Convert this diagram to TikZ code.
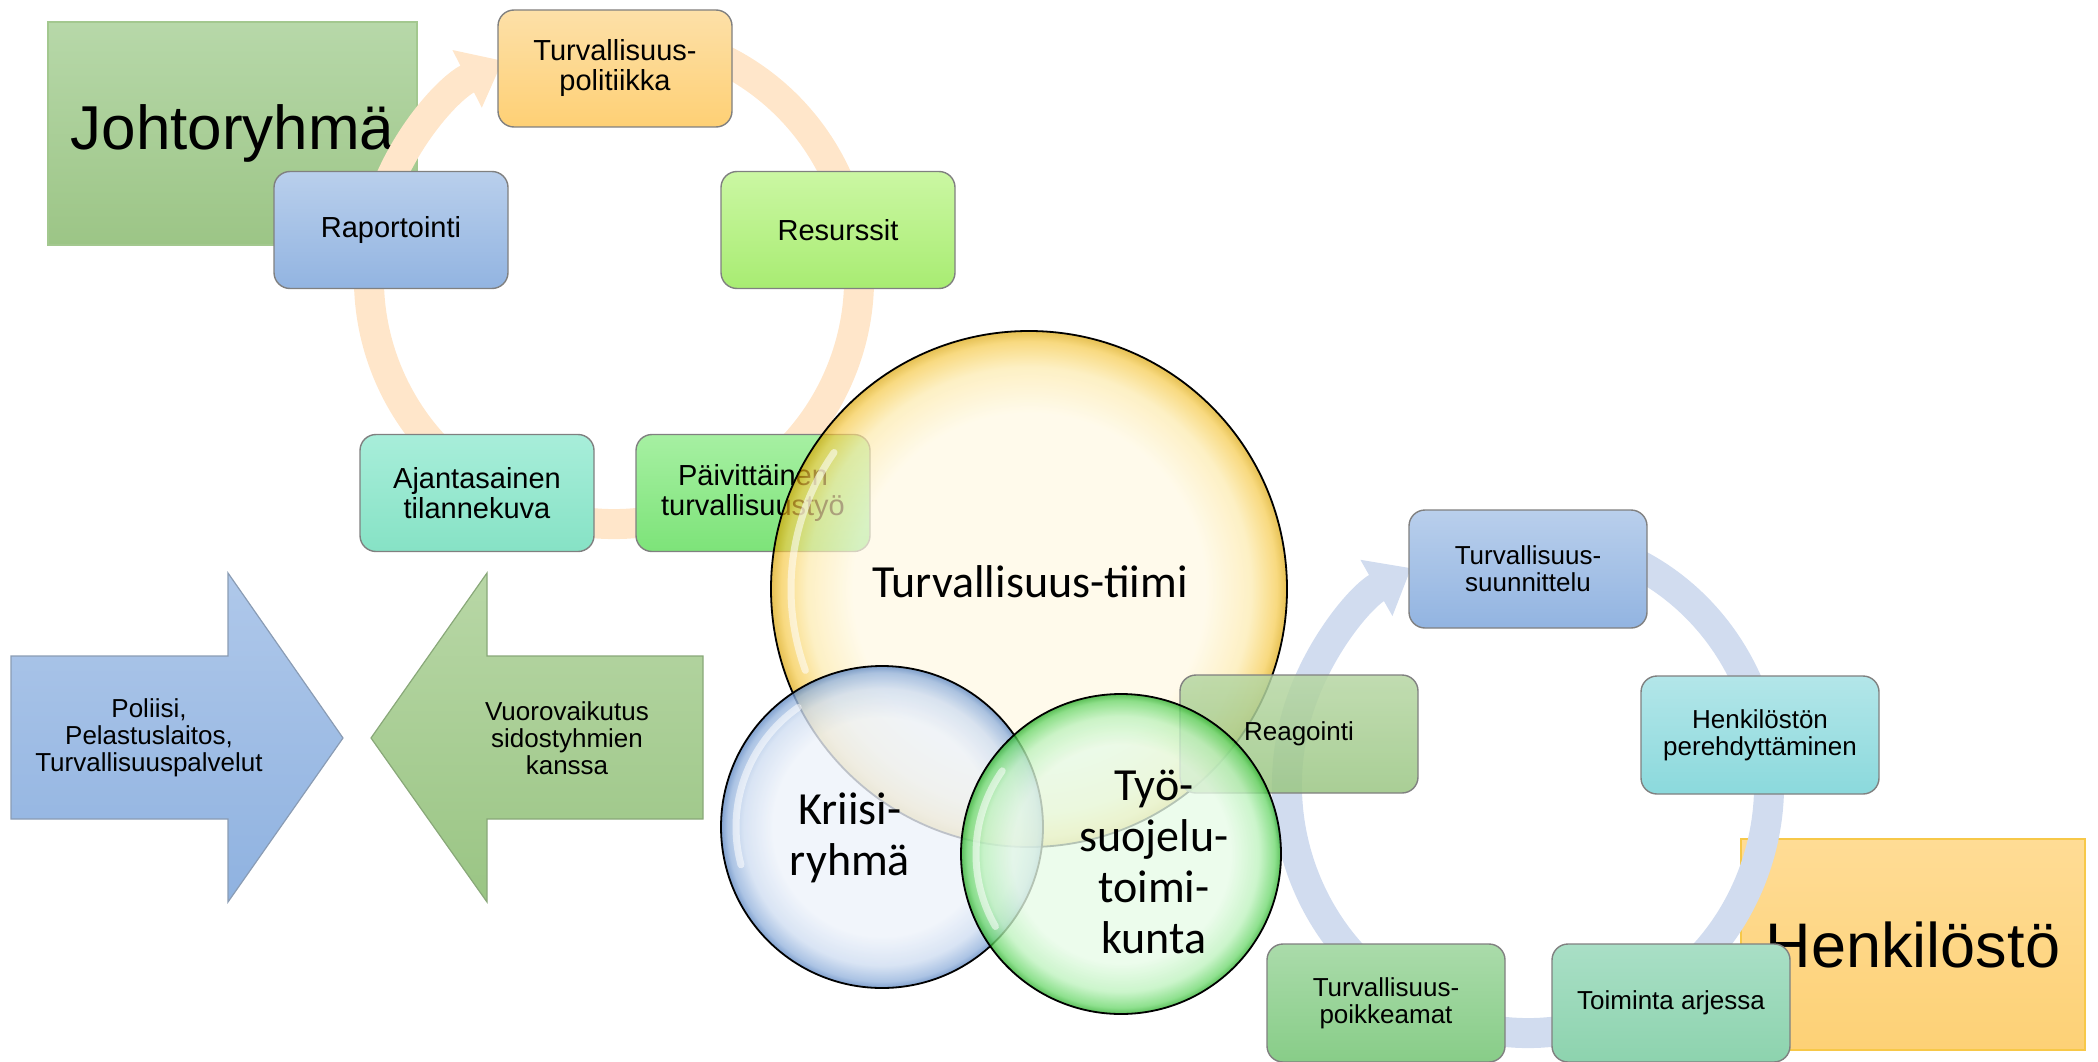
\documentclass[tikz,border=0pt]{standalone}
\usepackage{fontspec}
\setmainfont{Liberation Sans}
\newfontfamily\calib{Carlito}
\usetikzlibrary{arrows.meta,shadings}
\definecolor{johtoT}{HTML}{B7D8A9}
\definecolor{johtoB}{HTML}{9CC586}
\definecolor{johtoL}{HTML}{A3C88F}
\definecolor{henkT}{HTML}{FFDC95}
\definecolor{henkB}{HTML}{FDD176}
\definecolor{henkL}{HTML}{F7C848}
\definecolor{ringO}{HTML}{FFE6CA}
\definecolor{ringB}{HTML}{D1DCEF}
\definecolor{boxL}{HTML}{808080}
\definecolor{politT}{HTML}{FDE0A8}
\definecolor{politB}{HTML}{FED075}
\definecolor{blueT}{HTML}{B9CFEC}
\definecolor{blueB}{HTML}{92B4E1}
\definecolor{limeT}{HTML}{CBF7A3}
\definecolor{limeB}{HTML}{A8EC72}
\definecolor{mintT}{HTML}{A8EEDA}
\definecolor{mintB}{HTML}{86E2C5}
\definecolor{paivT}{HTML}{A6F0A2}
\definecolor{paivB}{HTML}{7DE379}
\definecolor{cyanT}{HTML}{B3E6E9}
\definecolor{cyanB}{HTML}{8BD9DC}
\definecolor{oliveT}{HTML}{B6D6A3}
\definecolor{oliveB}{HTML}{9AC683}
\definecolor{poikT}{HTML}{AADBAA}
\definecolor{poikB}{HTML}{88CD88}
\definecolor{toimT}{HTML}{A9DFC6}
\definecolor{toimB}{HTML}{8DD3AE}
\definecolor{arrBT}{HTML}{AFC8EA}
\definecolor{arrBB}{HTML}{8FB2E0}
\definecolor{arrBL}{HTML}{8A9CB4}
\definecolor{arrGT}{HTML}{B8D7A6}
\definecolor{arrGB}{HTML}{9AC584}
\definecolor{arrGL}{HTML}{89A879}
\definecolor{cYin}{HTML}{FFF8E2}
\definecolor{cYmid}{HTML}{FCE9A8}
\definecolor{cYrim}{HTML}{F5C844}
\definecolor{cYedge}{HTML}{D9A200}
\definecolor{cBin}{HTML}{EDF2FA}
\definecolor{cBmid}{HTML}{CFDDF1}
\definecolor{cBrim}{HTML}{96B4DD}
\definecolor{cBedge}{HTML}{5F88C2}
\definecolor{cGin}{HTML}{E7FBE7}
\definecolor{cGmid}{HTML}{BDF2BD}
\definecolor{cGrim}{HTML}{6ED86E}
\definecolor{cGedge}{HTML}{2DAE2D}
\pgfdeclareradialshading{ballY}{\pgfpoint{0bp}{0bp}}{color(0bp)=(cYin); color(17bp)=(cYin); color(21.5bp)=(cYmid); color(24bp)=(cYrim); color(25bp)=(cYedge); color(50bp)=(cYedge)}
\pgfdeclareradialshading{ballB}{\pgfpoint{0bp}{0bp}}{color(0bp)=(cBin); color(17bp)=(cBin); color(21.5bp)=(cBmid); color(24bp)=(cBrim); color(25bp)=(cBedge); color(50bp)=(cBedge)}
\pgfdeclareradialshading{ballG}{\pgfpoint{0bp}{0bp}}{color(0bp)=(cGin); color(17bp)=(cGin); color(21.5bp)=(cGmid); color(24bp)=(cGrim); color(25bp)=(cGedge); color(50bp)=(cGedge)}
\begin{document}
\begin{tikzpicture}[x=1pt,y=-1pt,
  labelbox/.style={rectangle, line width=1.5pt, inner sep=0pt, font=\fontsize{62}{70}\selectfont},
  cbox/.style={rectangle, rounded corners=16pt, draw=boxL, line width=1.4pt, minimum width=234pt, minimum height=117pt, align=center, inner sep=0pt, font=\fontsize{29}{30}\selectfont},
  rbox/.style={cbox, minimum width=238pt, minimum height=118pt, font=\fontsize{26}{27}\selectfont},
  ringline/.style={line width=30pt, -{Triangle[width=62pt,length=40pt]}},
  bigarrowtext/.style={align=center, inner sep=0pt, font=\fontsize{26}{27}\selectfont},
  circtext/.style={align=center, inner sep=0pt, font=\calib\fontsize{46}{51}\selectfont},
  rim/.style={draw=black, line width=1.8pt},
  shine/.style={draw=white, line width=7pt, opacity=0.55, line cap=round}]
\useasboundingbox (0,0) rectangle (2098,1062);
% group labels
\node[labelbox, top color=johtoT, bottom color=johtoB, draw=johtoL, minimum width=369pt, minimum height=223pt] (johto) at (232.5,133.5) {Johtoryhmä};
\node[labelbox, top color=henkT, bottom color=henkB, draw=henkL, minimum width=344pt, minimum height=211pt, font=\fontsize{63}{70}\selectfont] (henk) at (1913,944.5) {Henkilöstö};
% cycle rings
\coordinate (lc) at (614,279);
\coordinate (rc) at (1528,785);
\draw[ringline, draw=ringO] (lc) ++(-70:245) arc[start angle=-70, end angle=243, radius=245];
\draw[ringline, draw=ringB] (rc) ++(-70:241 and 248) arc[start angle=-70, end angle=241, x radius=241, y radius=248];
% left cycle
\node[cbox, top color=politT, bottom color=politB] (polit) at (615,68.5) {Turvallisuus-\\politiikka};
\node[cbox, top color=blueT, bottom color=blueB] (rap) at (391,230) {Raportointi};
\node[cbox, top color=limeT, bottom color=limeB] (res) at (838,230) {Resurssit};
\node[cbox, top color=mintT, bottom color=mintB] (ajan) at (477,493) {Ajantasainen\\tilannekuva};
\node[cbox, top color=paivT, bottom color=paivB] (paiv) at (753,493) {Päivittäinen\\turvallisuustyö};
% right cycle
\node[rbox, top color=blueT, bottom color=blueB] (suun) at (1528,569) {Turvallisuus-\\suunnittelu};
\node[rbox, top color=cyanT, bottom color=cyanB] (pere) at (1760,735) {Henkilöstön\\perehdyttäminen};
\node[rbox, top color=poikT, bottom color=poikB] (poik) at (1386,1003) {Turvallisuus-\\poikkeamat};
\node[rbox, top color=toimT, bottom color=toimB] (toim) at (1671,1003) {Toiminta arjessa};
% big arrows
\shade[top color=arrBT, bottom color=arrBB, draw=arrBL, line width=1.2pt] (11,656) -- (228,656) -- (228,573) -- (343,738) -- (228,902) -- (228,819) -- (11,819) -- cycle;
\shade[top color=arrGT, bottom color=arrGB, draw=arrGL, line width=1.2pt] (703,656) -- (487,656) -- (487,573) -- (371,738) -- (487,902) -- (487,819) -- (703,819) -- cycle;
\node[bigarrowtext] (ext) at (149,738) {Poliisi,\\Pelastuslaitos,\\Turvallisuuspalvelut};
\node[bigarrowtext] (vuoro) at (567,738) {Vuorovaikutus\\sidostyhmien\\kanssa};
% circles
\shade[shading=ballY, opacity=0.68] (1029,589) circle[radius=258];
\draw[rim] (1029,589) circle[radius=258];
\draw[shine] (1029,589) ++(160:238) arc[start angle=160, end angle=215, radius=238];
\shade[shading=ballB, opacity=0.8] (882,827) circle[radius=161];
\draw[rim] (882,827) circle[radius=161];
\draw[shine] (882,827) ++(165:146) arc[start angle=165, end angle=235, radius=146];
\node[rbox, top color=oliveT, bottom color=oliveB, fill opacity=0.85, text opacity=1] (reag) at (1299,734) {Reagointi};
\shade[shading=ballG, opacity=0.78] (1121,854) circle[radius=160];
\draw[rim] (1121,854) circle[radius=160];
\draw[shine] (1121,854) ++(150:145) arc[start angle=150, end angle=215, radius=145];
% circle texts
\node[circtext, anchor=base] (team) at (1030,597) {Turvallisuus-tiimi};
\node[circtext] (kriisi) at (850,838) {Kriisi-\\ryhmä};
\node[circtext] (tyo) at (1154,862) {Työ-\\suojelu-\\toimi-\\kunta};
\end{tikzpicture}
\end{document}
